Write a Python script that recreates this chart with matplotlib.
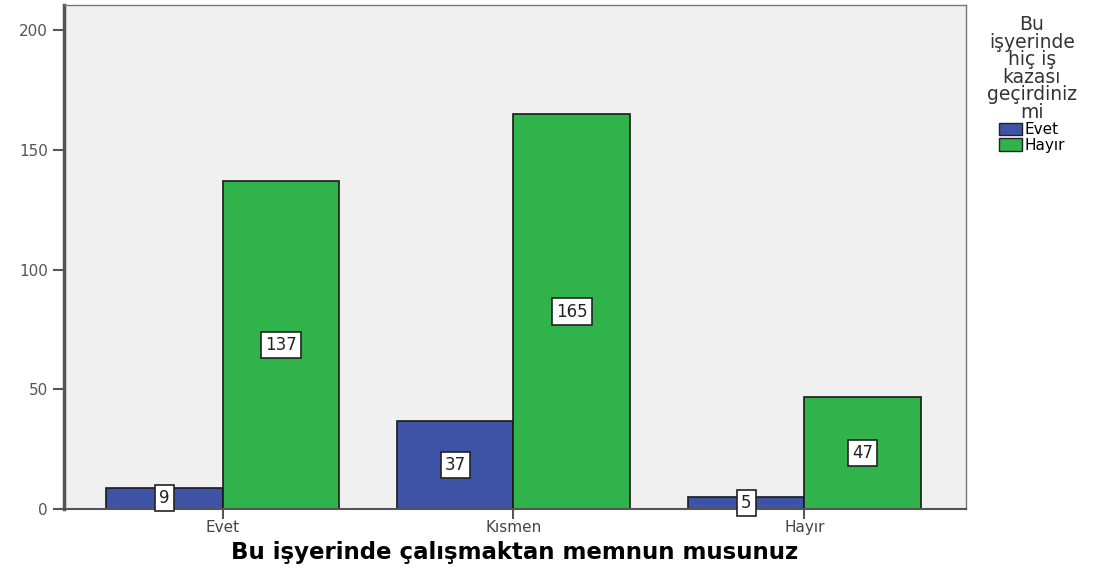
import numpy as np
import matplotlib.pyplot as plt
from matplotlib.patches import Patch

plt.rcParams['font.family'] = ['DejaVu Sans']

kategoriler = ['Evet', 'Kısmen', 'Hayır']
evet = [9, 37, 5]
hayir = [137, 165, 47]
seri_adlari = ['Evet', 'Hayır']
renkler = ['#3e53a6', '#2fb34a']

fig = plt.figure(figsize=(11.05, 5.72), dpi=100)
ax = fig.add_axes([0.058, 0.110, 0.816, 0.881])
ax.set_facecolor('#f0f0f0')

x = np.arange(len(kategoriler))
w = 0.4
b1 = ax.bar(x - w / 2, evet, w, color=renkler[0], edgecolor='#1a1a1a', linewidth=1.2)
b2 = ax.bar(x + w / 2, hayir, w, color=renkler[1], edgecolor='#1a1a1a', linewidth=1.2)

for bars in (b1, b2):
    for r in bars:
        h = r.get_height()
        ax.text(r.get_x() + r.get_width() / 2, h / 2, str(int(h)), ha='center', va='center',
                fontsize=12, color='#222222',
                bbox=dict(boxstyle='square,pad=0.25', fc='white', ec='#222222', lw=1.2))

ax.set_xlim(-0.545, 2.555)
ax.set_ylim(0, 210.5)
ax.set_yticks([0, 50, 100, 150, 200])
ax.set_xticks(x)
ax.set_xticklabels(kategoriler)
ax.tick_params(axis='y', length=8, width=1.5, colors='#555555', labelsize=11, labelcolor='#555555')
ax.tick_params(axis='x', length=7, width=1.2, colors='#333333', labelsize=11, labelcolor='#444444', pad=1)
for s in ['top', 'right']:
    ax.spines[s].set_color('#777777')
    ax.spines[s].set_linewidth(1)
ax.spines['left'].set_color('#555555')
ax.spines['left'].set_linewidth(2.5)
ax.spines['bottom'].set_color('#555555')
ax.spines['bottom'].set_linewidth(1.5)

ax.set_xlabel('Bu işyerinde çalışmaktan memnun musunuz', fontsize=16.5, fontweight='bold', labelpad=4)

handles = [Patch(facecolor=renkler[i], edgecolor='#222222', label=seri_adlari[i]) for i in range(2)]
leg = fig.legend(handles=handles, title='Bu\nişyerinde\nhiç iş\nkazası\ngeçirdiniz\nmi',
                 loc='upper left', bbox_to_anchor=(0.882, 0.995), frameon=False,
                 fontsize=11, title_fontsize=13.5, handlelength=1.5, handleheight=0.9,
                 handletextpad=0.2, labelspacing=0.05, borderpad=0.3)
leg.get_title().set_multialignment('center')
leg.get_title().set_linespacing(0.9)
leg.get_title().set_color('#333333')
leg._legend_box.align = 'center'

fig.savefig('out.png', dpi=100)
